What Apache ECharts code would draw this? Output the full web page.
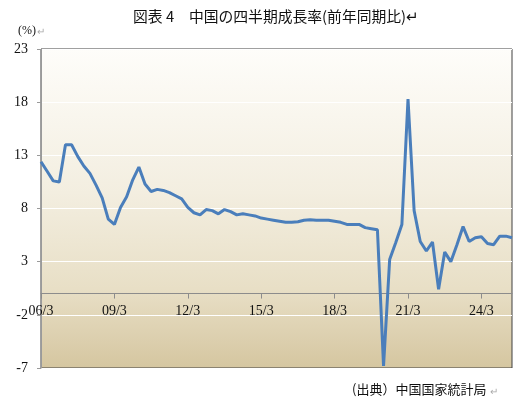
<!DOCTYPE html>
<html>
<head>
<meta charset="utf-8">
<script src="https://cdn.jsdelivr.net/npm/echarts@6/dist/echarts.min.js"></script>
<style>
html,body{margin:0;padding:0;background:#fff;}
#c{width:530px;height:411px;}
</style>
</head>
<body>
<div id="c"></div>
<script>
// Quarter labels (year/month), 2006/3 .. 2025/6
var categories = [
 "06/3","06/6","06/9","06/12","07/3","07/6","07/9","07/12",
 "08/3","08/6","08/9","08/12","09/3","09/6","09/9","09/12",
 "10/3","10/6","10/9","10/12","11/3","11/6","11/9","11/12",
 "12/3","12/6","12/9","12/12","13/3","13/6","13/9","13/12",
 "14/3","14/6","14/9","14/12","15/3","15/6","15/9","15/12",
 "16/3","16/6","16/9","16/12","17/3","17/6","17/9","17/12",
 "18/3","18/6","18/9","18/12","19/3","19/6","19/9","19/12",
 "20/3","20/6","20/9","20/12","21/3","21/6","21/9","21/12",
 "22/3","22/6","22/9","22/12","23/3","23/6","23/9","23/12",
 "24/3","24/6","24/9","24/12","25/3","25/6"
];
// Real GDP growth, % year on year
var growth = [
 12.4, 11.5, 10.6, 10.5, 14.0, 14.0, 12.9, 12.0,
 11.3, 10.2, 9.0, 7.0, 6.5, 8.1, 9.1, 10.7,
 11.9, 10.3, 9.6, 9.8, 9.7, 9.5, 9.2, 8.9,
 8.1, 7.6, 7.4, 7.9, 7.8, 7.5, 7.9, 7.7,
 7.4, 7.5, 7.4, 7.3, 7.1, 7.0, 6.9, 6.8,
 6.7, 6.7, 6.75, 6.9, 6.95, 6.9, 6.9, 6.9,
 6.8, 6.7, 6.5, 6.5, 6.5, 6.2, 6.1, 6.0,
 -6.8, 3.2, 4.8, 6.5, 18.3, 7.8, 4.9, 4.0,
 4.85, 0.4, 3.9, 3.0, 4.6, 6.3, 4.9, 5.25,
 5.35, 4.7, 4.6, 5.4, 5.4, 5.25
];
var yTicks = [-7, -2, 3, 8, 13, 18, 23];
var xTickLabels = ["06/3","09/3","12/3","15/3","18/3","21/3","24/3"];

var titleText = "図表 4　中国の四半期成長率(前年同期比)";
var unitText = "(%)";
var sourceText = "(出典）中国国家統計局";

var gridTop = 49, gridBottom = 43, H = 411;
var plotH = H - gridTop - gridBottom;
var yMin = yTicks[0], yMax = yTicks[yTicks.length-1];
// distance from the bottom of the plot to the zero line
var zeroOffset = plotH * (0 - yMin) / (yMax - yMin);

var chart = echarts.init(document.getElementById('c'), null, {renderer:'canvas'});
var serif = "'Liberation Serif','DejaVu Serif',serif";
var cjk = "'Noto Sans CJK JP','Noto Sans',sans-serif";
function isTick(i){ return xTickLabels.indexOf(categories[i]) >= 0; }

chart.setOption({
  animation:false,
  backgroundColor:'#ffffff',
  grid:{
    left:41, right:18, top:gridTop, bottom:gridBottom,
    show:true, borderColor:'#404040', borderWidth:1,
    backgroundColor:{
      type:'linear', x:0, y:0, x2:0, y2:1,
      colorStops:[
        {offset:0, color:'#fefdfa'},
        {offset:0.45, color:'#f3eee0'},
        {offset:0.75, color:'#e8dfc6'},
        {offset:1, color:'#d5c6a0'}
      ]
    }
  },
  graphic:[
    {type:'text', left:133, top:9, style:{text:titleText + '↵', font:"14.8px " + cjk, fill:'#111'}},
    {type:'text', left:18, top:25, style:{text:unitText, font:"12px " + serif, fill:'#111'}},
    {type:'text', left:37, top:26, style:{text:'↵', font:"10px " + cjk, fill:'#aaa'}},
    {type:'text', left:352, top:383, style:{text:sourceText, font:"13px " + cjk, fill:'#111'}},
    {type:'text', left:490, top:386, style:{text:'↵', font:"10px " + cjk, fill:'#aaa'}}
  ],
  xAxis:{
    type:'category',
    data:categories,
    boundaryGap:false,
    position:'bottom',
    offset:-zeroOffset,
    axisLine:{onZero:false, lineStyle:{color:'#8c8c8c', width:1}},
    axisTick:{show:true, interval:isTick, length:5, lineStyle:{color:'#8c8c8c'}},
    axisLabel:{interval:isTick, margin:11, color:'#111', fontFamily:serif, fontSize:14},
    splitLine:{show:false}
  },
  yAxis:{
    type:'value',
    min:yMin, max:yMax, interval:5,
    axisLine:{show:true, lineStyle:{color:'#9a9a9a'}},
    axisTick:{show:true, length:4, lineStyle:{color:'#9a9a9a'}},
    axisLabel:{color:'#111', fontFamily:serif, fontSize:14, margin:13},
    splitLine:{show:true, lineStyle:{color:'#ffffff', width:1}}
  },
  series:[{
    type:'line',
    data:growth,
    showSymbol:false,
    symbol:'none',
    lineStyle:{color:'#4a7ebb', width:3},
    z:5
  }]
});
</script>
</body>
</html>
